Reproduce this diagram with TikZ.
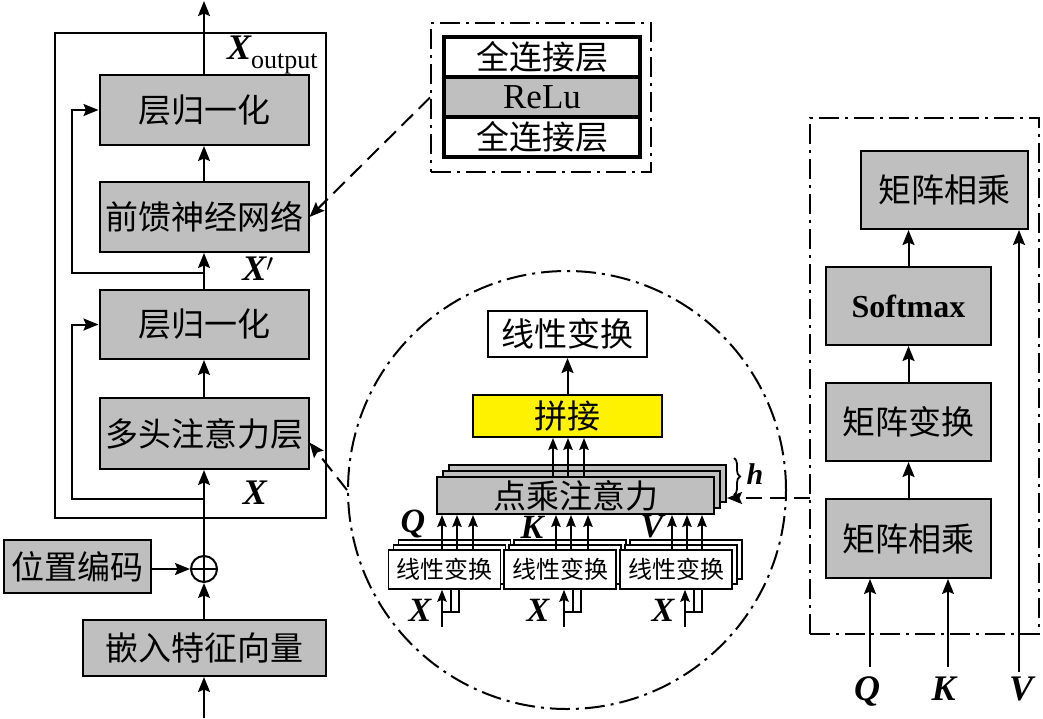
\documentclass[tikz,border=0pt]{standalone}
\usepackage{fontspec}
\setmainfont{Liberation Serif}
\newfontfamily\cjk{Noto Sans CJK SC}
\usetikzlibrary{arrows.meta,decorations.pathreplacing,calc}
\tikzset{
  arr/.style={line width=2pt, -{Stealth[length=15pt,width=12pt,inset=2.5pt]}},
  sarr/.style={line width=1.6pt, -{Stealth[length=12pt,width=9.5pt,inset=2pt]}},
  ln/.style={line width=2pt},
  thinln/.style={line width=1.5pt},
  box/.style={draw, line width=2pt, inner sep=0pt, font=\cjk\fontsize{33pt}{36pt}\selectfont},
  gbox/.style={box, fill=gray!50},
  wbox/.style={box, fill=white},
  sbox/.style={wbox, line width=1.6pt, font=\cjk\fontsize{24pt}{26pt}\selectfont, minimum width=112pt, minimum height=39pt},
  dpbox/.style={gbox, minimum width=277pt, minimum height=37pt},
  dashdot/.style={line width=2pt, dash pattern=on 20pt off 6pt on 3pt off 6pt},
  dasharr/.style={arr, dash pattern=on 16pt off 8pt},
  lab/.style={font=\fontsize{36pt}{38pt}\selectfont\bfseries\itshape, inner sep=0pt},
  slab/.style={font=\fontsize{34pt}{36pt}\selectfont\bfseries\itshape, inner sep=0pt},
}
\begin{document}
\begin{tikzpicture}[x=1pt,y=-1pt]
\useasboundingbox (0,0) rectangle (1043,718);
% ---------------- left encoder ----------------
\node[draw, line width=2pt, minimum width=271pt, minimum height=485pt] (enc) at (190.5,275.5) {};
\node[gbox, minimum width=209pt, minimum height=70pt] (ln2) at (204,110) {层归一化};
\node[gbox, minimum width=209pt, minimum height=70pt] (ffn) at (204,217) {前馈神经网络};
\node[gbox, minimum width=209pt, minimum height=69pt] (ln1) at (204,324.5) {层归一化};
\node[gbox, minimum width=209pt, minimum height=71pt] (mha) at (204,433.5) {多头注意力层};
\node[gbox, minimum width=147pt, minimum height=53pt] (pe) at (77.5,566.5) {位置编码};
\node[draw, circle, line width=2pt, minimum size=26pt, inner sep=0pt] (add) at (204,569) {};
\draw[ln] (add.north) -- (add.south) (add.west) -- (add.east);
\node[gbox, minimum width=243pt, minimum height=56pt] (emb) at (204,648) {嵌入特征向量};
\coordinate (in) at (204,718);
\coordinate (out) at (204,1);
\draw[arr] (in) -- (emb);
\draw[arr] (emb) -- (add);
\draw[arr] (pe.east |- add) -- (add.west);
\draw[arr] (add) -- (mha);
\draw[arr] (mha) -- (ln1);
\draw[arr] (ln1) -- (ffn);
\draw[arr] (ffn) -- (ln2);
\draw[arr] (ln2) -- (out);
\coordinate (r1) at (204,499);
\coordinate (r2) at (204,273);
\draw[arr] (r1) -- (72,499) |- (ln1.west);
\draw[arr] (r2) -- (72,273) |- (ln2.west);
\node[lab] (xl) at (255,493) {X};
\node[lab] (xp) at (258,269) {X$'$};
\node[lab, anchor=base west] (xo) at (227,59) {X\raisebox{-9pt}{\normalfont\fontsize{26pt}{26pt}\selectfont output}};
% ---------------- feed-forward detail ----------------
\node[draw, dashdot, minimum width=220pt, minimum height=149pt] (ffnd) at (541,97.5) {};
\node[wbox, line width=3.5pt, minimum width=196pt, minimum height=40pt] (fc1) at (542,57) {全连接层};
\node[wbox, line width=3.5pt, minimum width=196pt, minimum height=40pt] (fc2) at (542,137) {全连接层};
\node[gbox, line width=3.5pt, minimum width=196pt, minimum height=40pt] (relu) at (542,97) {\rmfamily\fontsize{35pt}{36pt}\selectfont ReLu};
\draw[dasharr] (ffnd.west) -- (ffn.east);
% ---------------- multi-head detail ----------------
\node[draw, circle, dashdot, minimum size=438pt, inner sep=0pt] (circ) at (567,490) {};
\draw[dasharr] (circ.west) -- ($(mha.east)+(0,9)$);
\node[wbox, minimum width=159pt, minimum height=46pt] (lt) at (567.5,334) {线性变换};
\node[box, fill=yellow, minimum width=189pt, minimum height=42pt] (cat) at (567.5,416) {拼接};
\draw[arr] (cat) -- (lt);
\node[dpbox] (dp2) at (587.5,483.5) {};
\node[dpbox] (dp1) at (581.5,489.5) {};
\node[dpbox] (dp) at (575.5,495.5) {点乘注意力};
\foreach \x in {553,568,584}{\coordinate (t) at (\x,0); \draw[sarr] (dp.north -| t) -- (cat.south -| t);}
\draw[line width=1.8pt, decorate, decoration={brace, amplitude=6pt}] (734,458) -- (734,495);
\node[font=\fontsize{30pt}{30pt}\selectfont\bfseries\itshape, inner sep=0pt] (h) at (755,474) {h};
% linear boxes
\foreach \cx/\n in {444.5/a, 560/b, 676/c}{
  \node[sbox] (lt\n2) at (\cx+10,559.5) {};
  \node[sbox] (lt\n1) at (\cx+5,564.5) {};
}
\node[sbox] (lta) at (444.5,569.5) {线性变换};
\node[sbox] (ltb) at (560,569.5) {线性变换};
\node[sbox] (ltc) at (676,569.5) {线性变换};
\foreach \x/\n in {442/a,457/a,473/a,556/b,571/b,588/b,672/c,687/c,702/c}{
  \coordinate (t) at (\x,0); \draw[sarr] (lt\n.north -| t) -- (dp.south -| t);}
\node[slab] (qa) at (413,524) {Q};
\node[slab] (ka) at (532,527) {K};
\node[slab] (va) at (652,527) {V};
\foreach \ax/\lx/\n in {442/420/a, 564/538/b, 685/663/c}{
  \coordinate (i\n) at (\ax,627);
  \draw[sarr] (i\n) -- (lt\n.south -| i\n);
  \draw[thinln] (\ax,612) -- (\ax+17,612) -- (\ax+17,589);
  \draw[thinln] (\ax+9,612) -- (\ax+9,589);
  \node[slab] (x\n) at (\lx,610) {X};
}
% ---------------- scaled dot-product detail ----------------
\node[draw, dashdot, minimum width=229pt, minimum height=516pt] (att) at (924.5,376) {};
\node[gbox, minimum width=167pt, minimum height=78pt] (mm2) at (944.5,190) {矩阵相乘};
\node[gbox, minimum width=165pt, minimum height=78pt] (sm) at (908.5,306) {\rmfamily\bfseries\fontsize{32pt}{34pt}\selectfont Softmax};
\node[gbox, minimum width=165pt, minimum height=78pt] (mt) at (908.5,422) {矩阵变换};
\node[gbox, minimum width=165pt, minimum height=79pt] (mm1) at (908.5,538.5) {矩阵相乘};
\draw[arr] (mm1) -- (mt);
\draw[arr] (mt) -- (sm);
\draw[arr] (sm.north) -- (sm.north |- mm2.south);
\coordinate (qi) at (870,667);
\coordinate (ki) at (948,667);
\coordinate (vi) at (1019,672);
\draw[arr] (qi) -- (qi |- mm1.south);
\draw[arr] (ki) -- (ki |- mm1.south);
\draw[arr] (vi) -- (vi |- mm2.south);
\node[lab] (q) at (867,691) {Q};
\node[lab] (k) at (943.5,689) {K};
\node[lab] (v) at (1021,689) {V};
\coordinate (hin) at (810,498);
\draw[dasharr] (hin) -- (dp2.east |- hin);
\end{tikzpicture}
\end{document}
